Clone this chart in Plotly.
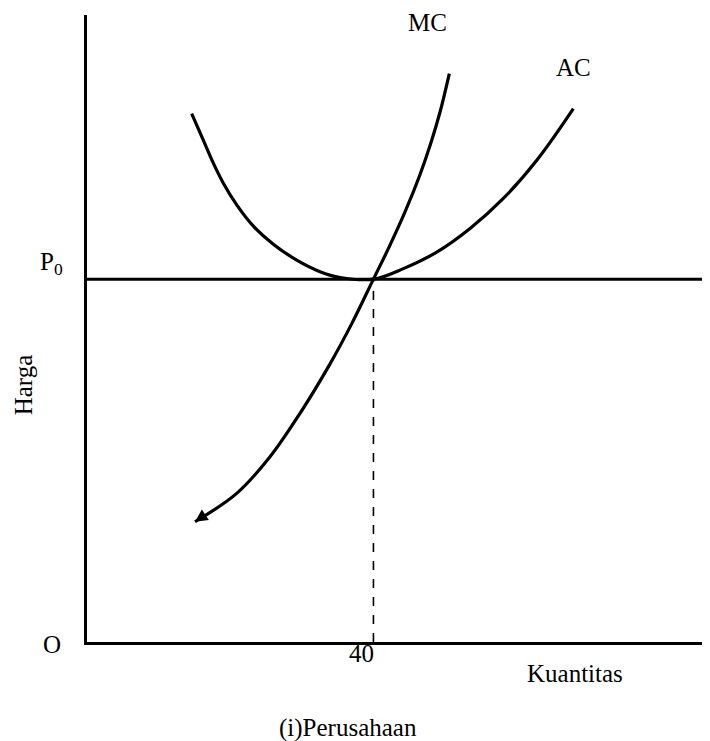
import plotly.graph_objects as go

# curve points (quantity, price)
ac_q = [14.62, 16.24, 17.64, 19.04, 20.91, 23.23, 26.02, 29.29, 32.54, 35.34, 40,
        44.18, 48.84, 53.49, 58.14, 62.81, 67.92]
ac_p = [72.82, 69.15, 65.98, 63.22, 60.23, 57.30, 54.82, 52.62, 51.03, 50.23, 50,
        51.45, 53.72, 56.98, 61.12, 66.39, 73.51]

mc_q = [15.08, 20.91, 25.56, 29.75, 33.94, 37.01, 40, 42.18, 44.41, 46.51, 48.04, 49.3, 50.6]
mc_p = [16.57, 20.48, 25.52, 31.52, 38.33, 43.94, 50, 54.41, 59.26, 64.42, 68.82, 73.03, 78.33]

p0 = 50
q0 = 40
q_max = 86.2

x_rng = [0, 87.0]
y_rng = [0, 86.4]

font = dict(family="Liberation Serif", size=25, color="black")

fig = go.Figure()

# price line P0
fig.add_trace(go.Scatter(x=[0, q_max], y=[p0, p0], mode="lines",
                         line=dict(color="black", width=3), hoverinfo="skip"))
# dashed drop line at Q = 40
fig.add_trace(go.Scatter(x=[q0, q0], y=[0, p0], mode="lines",
                         line=dict(color="black", width=1.6, dash="dash"), hoverinfo="skip"))
fig.add_trace(go.Scatter(x=ac_q, y=ac_p, mode="lines", name="AC",
                         line=dict(color="black", width=3.2, shape="spline")))
fig.add_trace(go.Scatter(x=mc_q, y=mc_p, mode="lines", name="MC",
                         line=dict(color="black", width=3.2, shape="spline")))

# small arrow head at the lower end of MC
fig.add_annotation(x=mc_q[0], y=mc_p[0], ax=mc_q[0] + 1.2, ay=mc_p[0] + 0.8,
                   xref="x", yref="y", axref="x", ayref="y", text="",
                   showarrow=True, arrowhead=2, arrowsize=1, arrowwidth=2.5,
                   arrowcolor="black")

# labels, given in axis units; placed through paper coords so the ones
# outside the plot area are still drawn
labels = [
    ("MC", 47.6, 85.4, 0),
    ("AC", 68.0, 79.1, 0),
    ("P<sub>0</sub>", -4.9, 52.2, 0),
    ("O", -4.9, -0.4, 0),
    ("40", 38.4, -1.6, 0),
    ("Kuantitas", 68.1, -4.3, 0),
    ("Harga", -8.9, 35.4, -90),
    ("(i)Perusahaan", 36.5, -11.9, 0),
]
for txt, lx, ly, ang in labels:
    fig.add_annotation(x=(lx - x_rng[0]) / (x_rng[1] - x_rng[0]),
                       y=(ly - y_rng[0]) / (y_rng[1] - y_rng[0]),
                       xref="paper", yref="paper", text=txt, showarrow=False,
                       textangle=ang, font=font, xanchor="center", yanchor="middle")

# page body has an 8px margin, so the figure is shrunk by that much
fig.update_layout(
    width=702, height=733,
    margin=dict(l=79, r=0, t=7, b=99),
    paper_bgcolor="white", plot_bgcolor="white",
    showlegend=False,
)
fig.update_xaxes(range=x_rng, showline=True, linecolor="black", linewidth=2.5,
                 showgrid=False, zeroline=False, showticklabels=False, ticks="")
fig.update_yaxes(range=y_rng, showline=True, linecolor="black", linewidth=2.5,
                 showgrid=False, zeroline=False, showticklabels=False, ticks="")

fig.write_html("out.html")
